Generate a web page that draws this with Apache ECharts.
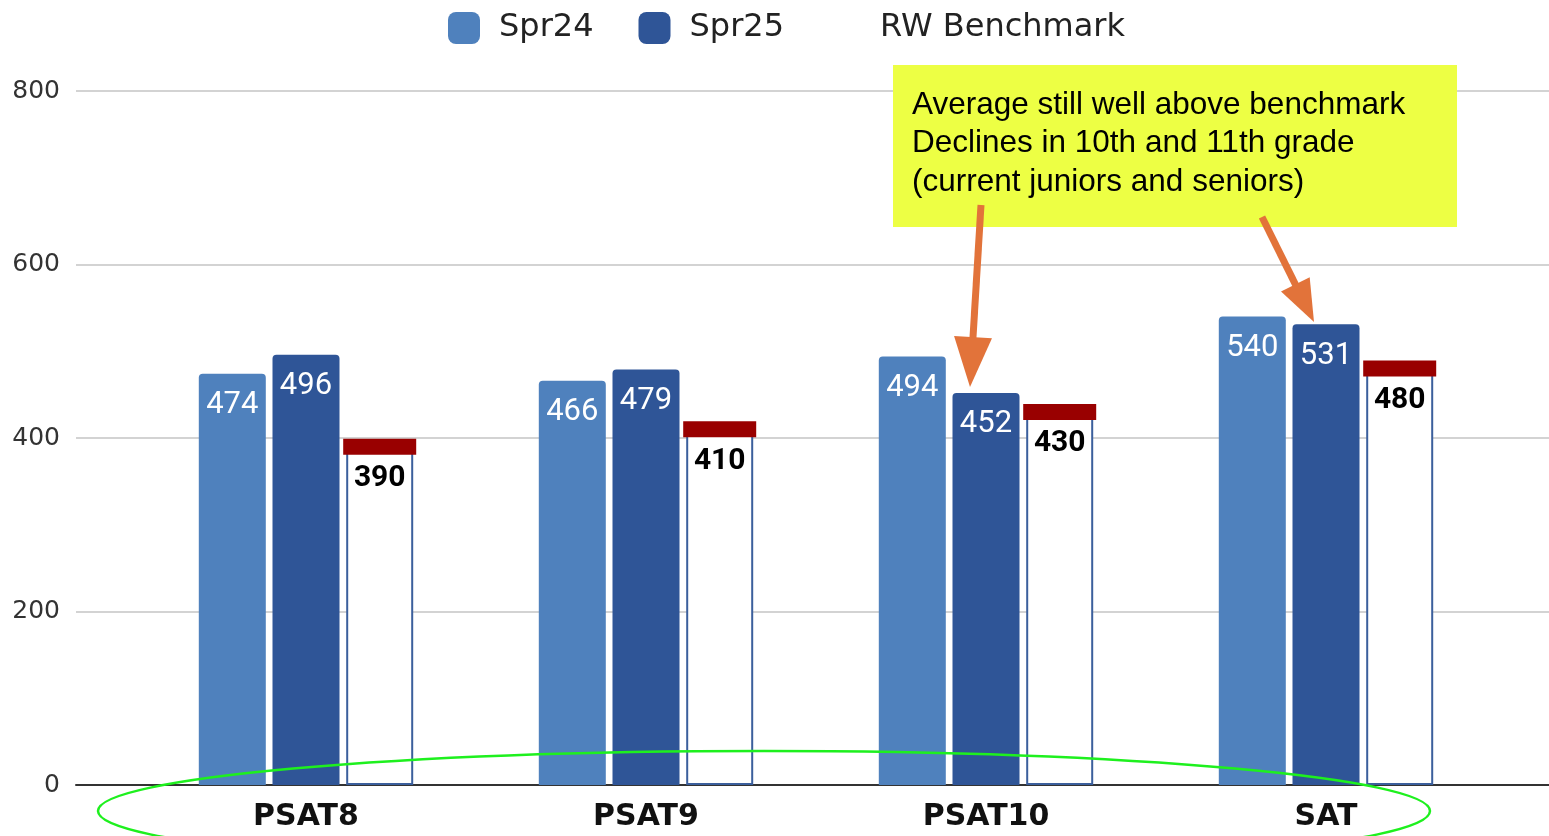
<!DOCTYPE html>
<html>
<head>
<meta charset="utf-8">
<title>RW Benchmark</title>
<script src="https://cdn.jsdelivr.net/npm/echarts@6/dist/echarts.min.js"></script>
<style>
    html, body { margin: 0; padding: 0; background: #fff; }
    #main { width: 1549px; height: 836px; }
</style>
</head>
<body>
<div id="main"></div>
<script>
// 数据
var categories = ['PSAT8', 'PSAT9', 'PSAT10', 'SAT'];
var spr24 = [474, 466, 494, 540];
var spr25 = [496, 479, 452, 531];
var benchmark = [390, 410, 430, 480];
var yTicks = [0, 200, 400, 600, 800];
var noteLines = [
    'Average still well above benchmark',
    'Declines in 10th and 11th grade',
    '(current juniors and seniors)'
];

var BAR_W = 67;
var BAR_GAP = 0.1;
var ORANGE = '#e2733a';

//箭头
function arrow(x1, y1, x2, y2, headLen, headW) {
    var dx = x2 - x1, dy = y2 - y1;
    var len = Math.sqrt(dx * dx + dy * dy);
    var ux = dx / len, uy = dy / len;
    var bx = x2 - ux * headLen, by = y2 - uy * headLen;
    return [{
        type: 'line',
        z: 100,
        shape: {x1: x1, y1: y1, x2: bx + ux * 2, y2: by + uy * 2},
        style: {stroke: ORANGE, lineWidth: 7}
    }, {
        type: 'polygon',
        z: 100,
        shape: {
            points: [
                [x2, y2],
                [bx - uy * headW / 2, by + ux * headW / 2],
                [bx + uy * headW / 2, by - ux * headW / 2]
            ]
        },
        style: {fill: ORANGE}
    }];
}

var chart = echarts.init(document.getElementById('main'));

var yMin = yTicks[0], yMax = yTicks[yTicks.length - 1], yStep = yTicks[1] - yTicks[0];

var option = {
    backgroundColor: '#fff',
    animation: false,
    legend: {
        top: 7,
        left: 443,
        icon: 'roundRect',
        itemWidth: 32,
        itemHeight: 32,
        itemGap: 45,
        textStyle: {
            fontFamily: 'DejaVu Sans',
            fontSize: 32,
            color: '#222',
            padding: [0, 0, 0, 14]
        },
        data: [
            {name: 'Spr24'},
            {name: 'Spr25'},
            {name: 'RW Benchmark', itemStyle: {color: '#fff', borderWidth: 0}}
        ]
    },
    grid: [
        {left: 76, right: 0, top: 91, bottom: 51},
        {left: 136, right: 53, top: 91, bottom: 51}
    ],
    xAxis: [{
        gridIndex: 0,
        type: 'value',
        min: 0,
        max: 1,
        axisLine: {show: true, lineStyle: {color: '#333', width: 2}},
        axisTick: {show: false},
        axisLabel: {show: false},
        splitLine: {show: false}
    }, {
        gridIndex: 1,
        type: 'category',
        data: categories,
        axisLine: {show: false},
        axisTick: {show: false},
        axisLabel: {
            fontFamily: 'DejaVu Sans',
            fontWeight: 'bold',
            fontSize: 30,
            color: '#111',
            margin: 17
        }
    }],
    yAxis: [{
        gridIndex: 0,
        type: 'value',
        min: yMin,
        max: yMax,
        interval: yStep,
        axisLine: {show: false},
        axisTick: {show: false},
        axisLabel: {fontFamily: 'DejaVu Sans', fontSize: 25, color: '#333', margin: 16},
        splitLine: {lineStyle: {color: '#d3d3d3', width: 2}}
    }, {
        gridIndex: 1,
        type: 'value',
        min: yMin,
        max: yMax,
        interval: yStep,
        show: false
    }],
    series: [{
        name: 'Spr24',
        type: 'bar',
        xAxisIndex: 1,
        yAxisIndex: 1,
        barWidth: BAR_W,
        barGap: (BAR_GAP * 100) + '%',
        data: spr24,
        itemStyle: {color: '#4f81bd', borderRadius: [4, 4, 0, 0]},
        label: {
            show: true, position: 'insideTop', distance: 16,
            color: '#fff', fontFamily: 'Roboto', fontSize: 31
        }
    }, {
        name: 'Spr25',
        type: 'bar',
        xAxisIndex: 1,
        yAxisIndex: 1,
        barWidth: BAR_W,
        barGap: (BAR_GAP * 100) + '%',
        data: spr25,
        itemStyle: {color: '#2f5597', borderRadius: [4, 4, 0, 0]},
        label: {
            show: true, position: 'insideTop', distance: 16,
            color: '#fff', fontFamily: 'Roboto', fontSize: 31
        }
    }, {
        name: 'RW Benchmark',
        type: 'bar',
        xAxisIndex: 1,
        yAxisIndex: 1,
        barWidth: BAR_W,
        barGap: (BAR_GAP * 100) + '%',
        data: benchmark,
        itemStyle: {color: '#fff', borderColor: '#3b5f9c', borderWidth: 2},
        label: {
            show: true, position: 'insideTop', distance: 17,
            color: '#000', fontFamily: 'Roboto', fontWeight: 'bold', fontSize: 30
        }
    }, {
        //基准线红色帽
        name: 'cap',
        type: 'custom',
        xAxisIndex: 1,
        yAxisIndex: 1,
        z: 5,
        data: benchmark.map(function (v, i) { return [i, v]; }),
        renderItem: function (params, api) {
            var pt = api.coord([api.value(0), api.value(1)]);
            var cx = pt[0] + BAR_W * (1 + BAR_GAP);
            var w = BAR_W + 6;
            return {
                type: 'rect',
                shape: {x: cx - w / 2, y: pt[1] - 8, width: w, height: 16},
                style: {fill: '#990000'}
            };
        }
    }],
    graphic: [{
        type: 'rect',
        z: 100,
        shape: {x: 893, y: 65, width: 564, height: 162},
        style: {fill: '#edff44'}
    }, {
        type: 'text',
        z: 101,
        x: 912,
        y: 86,
        style: {
            text: noteLines.join('\n'),
            fontFamily: 'Liberation Sans',
            fontSize: 31.5,
            lineHeight: 38.5,
            fill: '#000'
        }
    }, {
        type: 'ellipse',
        z: 100,
        shape: {cx: 764, cy: 811, rx: 666, ry: 60},
        style: {fill: 'none', stroke: '#1ef01e', lineWidth: 2.5}
    }].concat(arrow(981, 205, 970, 387, 50, 38), arrow(1262, 217, 1314, 322, 42, 32))
};

chart.setOption(option);
</script>
</body>
</html>
